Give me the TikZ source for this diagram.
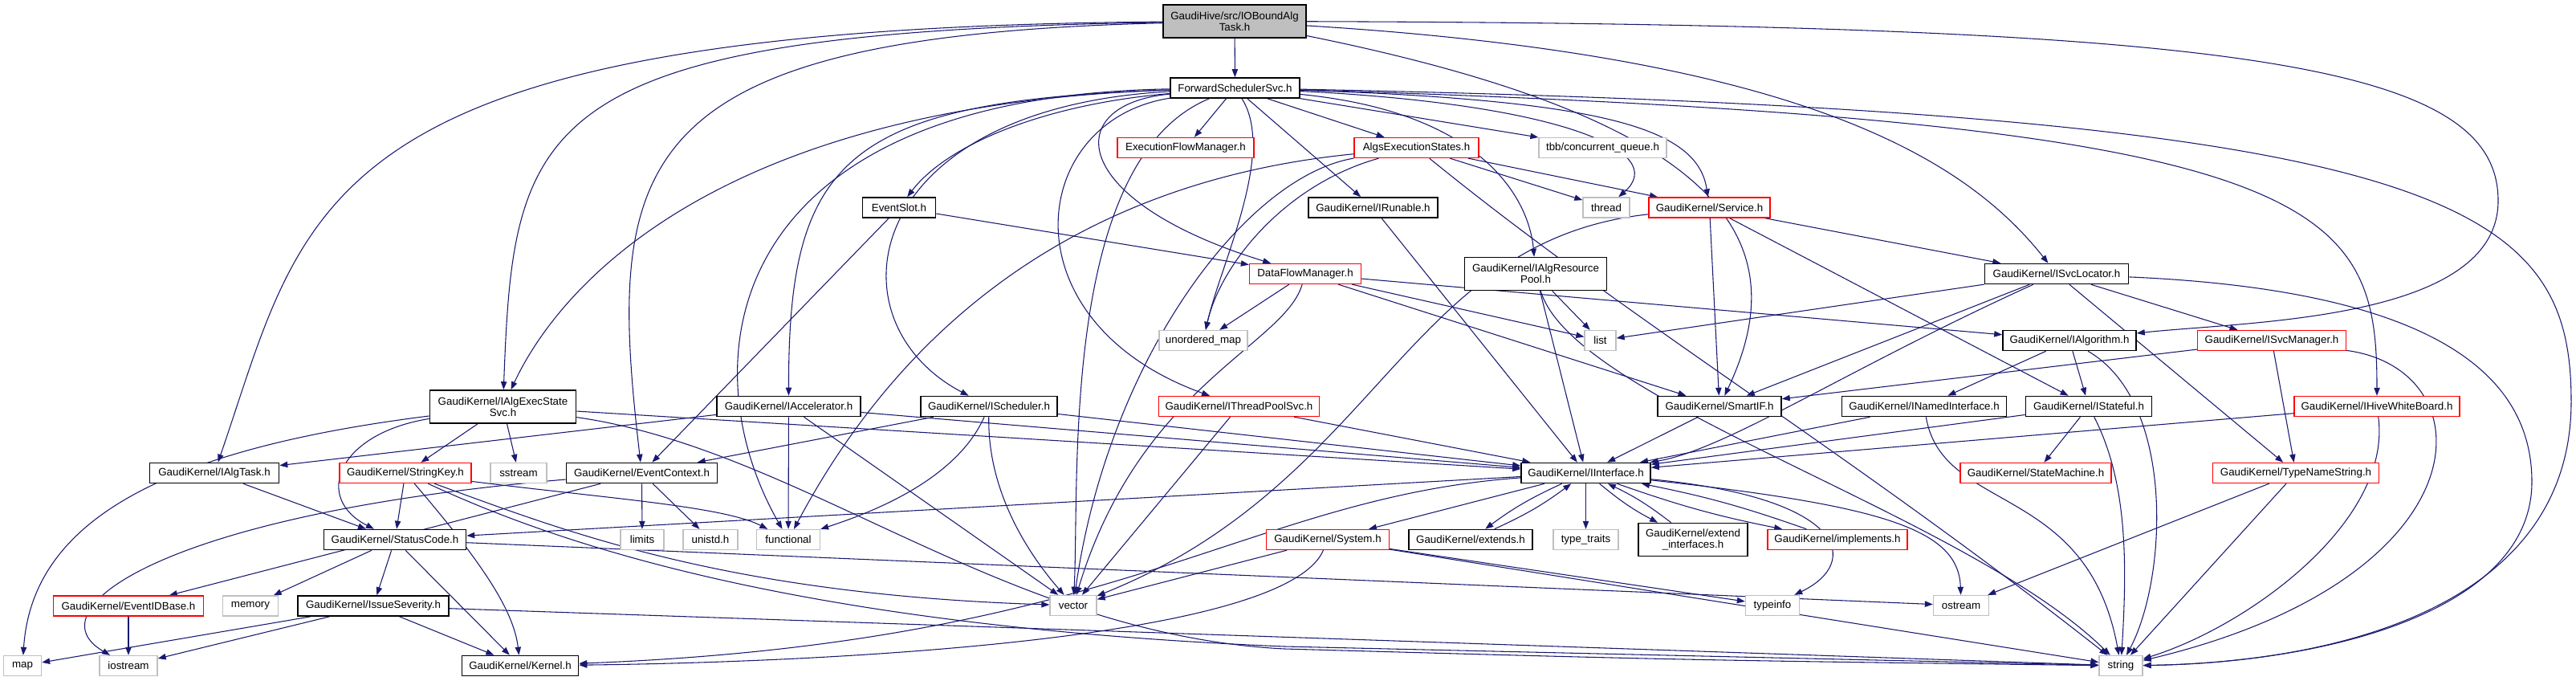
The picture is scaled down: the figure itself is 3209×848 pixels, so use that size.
\documentclass[tikz,border=0pt]{standalone}
\usepackage{fontspec}
\setmainfont{Liberation Sans}
\usetikzlibrary{arrows.meta}
\usetikzlibrary{backgrounds}
\definecolor{edgeColor}{HTML}{191970}
\definecolor{truncColor}{HTML}{FF0000}
\definecolor{sysColor}{HTML}{BFBFBF}
\colorlet{rootFill}{sysColor}
\colorlet{background}{white}
\tikzset{>={Triangle[length=7.5pt,width=5.5pt]}}
\tikzset{
	filebox/.style={draw=black, line width=1.2pt, fill=background, inner sep=0pt,
		minimum height=18.75pt, align=center, font=\fontsize{10}{10.5}\selectfont},
	truncbox/.style={filebox, draw=truncColor, line width=1pt},
	sysbox/.style={filebox, draw=sysColor, line width=1pt},
	rootbox/.style={filebox, fill=rootFill},
	tall/.style={minimum height=30.75pt},
	bw/.style={minimum width=#1*0.75pt},
	dep/.style={->, draw=edgeColor, line width=0.8pt},
}
\begin{document}
\begin{tikzpicture}[x=0.75pt,y=-0.75pt]
				\useasboundingbox (0,0) rectangle (3209,848);
				\node[rootbox, bw=178, tall] (root) at (1538,26.5) {GaudiHive/src/IOBoundAlg\\Task.h};
				\node[filebox, bw=161] (fss) at (1538.5,109.5) {ForwardSchedulerSvc.h};
				\node[truncbox, bw=170] (efm) at (1477,184) {ExecutionFlowManager.h};
				\node[truncbox, bw=155] (aes) at (1764.5,184) {AlgsExecutionStates.h};
				\node[sysbox, bw=159] (tbb) at (1996.5,184) {tbb/concurrent\_queue.h};
				\node[filebox, bw=91] (eslot) at (1120,258.5) {EventSlot.h};
				\node[filebox, bw=161] (irun) at (1710.5,258.5) {GaudiKernel/IRunable.h};
				\node[sysbox, bw=58] (thread) at (2001,258.5) {thread};
				\node[truncbox, bw=151] (svc) at (2129.5,258.5) {GaudiKernel/Service.h};
				\node[truncbox, bw=139] (dfm) at (1626,341) {DataFlowManager.h};
				\node[filebox, bw=177, tall] (iarp) at (1913,341) {GaudiKernel/IAlgResource\\Pool.h};
				\node[filebox, bw=179] (isl) at (2562,341) {GaudiKernel/ISvcLocator.h};
				\node[sysbox, bw=110] (umap) at (1499,424) {unordered\_map};
				\node[sysbox, bw=39] (list) at (1993.5,424) {list};
				\node[filebox, bw=166] (ialg) at (2578,424) {GaudiKernel/IAlgorithm.h};
				\node[truncbox, bw=185] (isvcm) at (2830,424) {GaudiKernel/ISvcManager.h};
				\node[filebox, bw=182, tall] (iaes) at (626.5,506.5) {GaudiKernel/IAlgExecState\\Svc.h};
				\node[filebox, bw=179] (iacc) at (982.5,506) {GaudiKernel/IAccelerator.h};
				\node[filebox, bw=170] (isched) at (1232,506) {GaudiKernel/IScheduler.h};
				\node[truncbox, bw=200] (itps) at (1543.5,506) {GaudiKernel/IThreadPoolSvc.h};
				\node[filebox, bw=154] (smartif) at (2142,506) {GaudiKernel/SmartIF.h};
				\node[filebox, bw=205] (inamed) at (2397,506) {GaudiKernel/INamedInterface.h};
				\node[filebox, bw=157] (istate) at (2602,506) {GaudiKernel/IStateful.h};
				\node[truncbox, bw=206] (ihwb) at (2961,506) {GaudiKernel/IHiveWhiteBoard.h};
				\node[filebox, bw=161] (ialgtask) at (267,589) {GaudiKernel/IAlgTask.h};
				\node[truncbox, bw=164] (skey) at (505,589) {GaudiKernel/StringKey.h};
				\node[sysbox, bw=70] (sstream) at (646,589) {sstream};
				\node[filebox, bw=188] (evctx) at (799.5,589) {GaudiKernel/EventContext.h};
				\node[filebox, bw=161] (iif) at (1975.5,589) {GaudiKernel/IInterface.h};
				\node[truncbox, bw=188] (smach) at (2536,589) {GaudiKernel/StateMachine.h};
				\node[truncbox, bw=207] (tns) at (2860,589) {GaudiKernel/TypeNameString.h};
				\node[filebox, bw=177] (stcode) at (492,672) {GaudiKernel/StatusCode.h};
				\node[sysbox, bw=54] (limits) at (800,672) {limits};
				\node[sysbox, bw=68] (unistd) at (885,672) {unistd.h};
				\node[sysbox, bw=79] (functional) at (982,672) {functional};
				\node[truncbox, bw=153] (system) at (1654,672) {GaudiKernel/System.h};
				\node[filebox, bw=154] (extends) at (1832,672) {GaudiKernel/extends.h};
				\node[sysbox, bw=81] (ttraits) at (1975.5,672) {type\_traits};
				\node[filebox, bw=136, tall] (extif) at (2109,672) {GaudiKernel/extend\\\_interfaces.h};
				\node[truncbox, bw=174] (impl) at (2289,672) {GaudiKernel/implements.h};
				\node[truncbox, bw=187] (evid) at (160,754.5) {GaudiKernel/EventIDBase.h};
				\node[sysbox, bw=69] (memory) at (312,754.5) {memory};
				\node[filebox, bw=188] (isev) at (465,754.5) {GaudiKernel/IssueSeverity.h};
				\node[sysbox, bw=58] (vector) at (1337,754) {vector};
				\node[sysbox, bw=67] (typeinfo) at (2208,754) {typeinfo};
				\node[sysbox, bw=69] (ostream) at (2443,754) {ostream};
				\node[sysbox, bw=47] (map) at (28,829) {map};
				\node[sysbox, bw=72] (iostream) at (160,829) {iostream};
				\node[filebox, bw=145] (kernel) at (648,829) {GaudiKernel/Kernel.h};
				\node[sysbox, bw=54] (string) at (2642,829) {string};
				\begin{scope}[on background layer]
				% includes of the root file
				\draw[dep] (root) -- (fss);
				\draw[dep] (root) .. controls (384,35) and (384,250) .. (ialgtask);
				\draw[dep] (root) .. controls (660,40) and (640,150) .. (iaes);
				\draw[dep] (root) .. controls (780,45) and (754,200) .. (evctx);
				\draw[dep] (root) .. controls (2150,150) and (2240,300) .. (smartif);
				\draw[dep] (root) .. controls (2250,70) and (2450,200) .. (isl);
				\draw[dep] (root) .. controls (2800,30) and (3112,80) .. (3112,250) .. controls (3112,400) and (2800,400) .. (ialg);
				% ForwardSchedulerSvc.h
				\draw[dep] (fss) -- (efm);
				\draw[dep] (fss) -- (aes);
				\draw[dep] (fss) -- (tbb);
				\draw[dep] (fss) -- (irun);
				\draw[dep] (fss) .. controls (1950,130) and (2080,190) .. (thread);
				\draw[dep] (fss) .. controls (2000,125) and (2115,160) .. (svc);
				\draw[dep] (fss) .. controls (1300,130) and (1180,180) .. (eslot);
				\draw[dep] (fss) .. controls (1320,130) and (1330,250) .. (dfm);
				\draw[dep] (fss) .. controls (1590,190) and (1520,330) .. (umap);
				\draw[dep] (fss) .. controls (1850,140) and (1905,250) .. (iarp);
				\draw[dep] (fss) .. controls (1050,125) and (982,200) .. (iacc);
				\draw[dep] (fss) .. controls (1070,135) and (1030,400) .. (isched);
				\draw[dep] (fss) .. controls (1280,150) and (1250,400) .. (itps);
				\draw[dep] (fss) .. controls (900,130) and (700,350) .. (iaes);
				\draw[dep] (fss) .. controls (900,120) and (855,450) .. (functional);
				\draw[dep] (fss) .. controls (1320,200) and (1345,600) .. (vector);
				\draw[dep] (fss) .. controls (2900,150) and (2961,250) .. (ihwb);
				\draw[dep] (fss) .. controls (3050,140) and (3203,250) .. (3203,500) .. controls (3203,760) and (2900,825) .. (string);
				% AlgsExecutionStates.h
				\draw[dep] (aes) -- (thread);
				\draw[dep] (aes) -- (svc);
				\draw[dep] (aes) .. controls (1600,230) and (1520,330) .. (umap);
				\draw[dep] (aes) .. controls (1550,220) and (1380,450) .. (vector);
				\draw[dep] (aes) .. controls (1300,230) and (1100,450) .. (functional);
				\draw[dep] (aes) .. controls (2030,400) and (2300,560) .. (string);
				\draw[dep] (eslot) -- (dfm);
				\draw[dep] (eslot) -- (evctx);
				\draw[dep] (irun) -- (iif);
				% Service.h
				\draw[dep] (svc) -- (isl);
				\draw[dep] (svc) -- (smartif);
				\draw[dep] (svc) -- (istate);
				\draw[dep] (svc) .. controls (1750,300) and (1720,600) .. (vector);
				% DataFlowManager.h
				\draw[dep] (dfm) -- (umap);
				\draw[dep] (dfm) .. controls (1600,430) and (1420,480) .. (vector);
				\draw[dep] (dfm) -- (list);
				\draw[dep] (dfm) -- (ialg);
				\draw[dep] (dfm) -- (smartif);
				\draw[dep] (iarp) -- (list);
				\draw[dep] (iarp) -- (iif);
				\draw[dep] (iarp) .. controls (1960,500) and (2450,640) .. (string);
				% ISvcLocator.h
				\draw[dep] (isl) -- (list);
				\draw[dep] (isl) -- (smartif);
				\draw[dep] (isl) .. controls (2300,460) and (2150,560) .. (iif);
				\draw[dep] (isl) -- (tns);
				\draw[dep] (isl) -- (isvcm);
				\draw[dep] (isl) .. controls (3000,360) and (3154,450) .. (3154,600) .. controls (3154,760) and (2900,825) .. (string);
				\draw[dep] (ialg) -- (inamed);
				\draw[dep] (ialg) -- (istate);
				\draw[dep] (ialg) .. controls (2710,500) and (2700,720) .. (string);
				\draw[dep] (isvcm) -- (smartif);
				\draw[dep] (isvcm) -- (tns);
				\draw[dep] (isvcm) .. controls (3100,460) and (3100,720) .. (string);
				% IAlgExecStateSvc.h
				\draw[dep] (iaes) .. controls (200,560) and (40,650) .. (map);
				\draw[dep] (iaes) .. controls (420,540) and (390,620) .. (stcode);
				\draw[dep] (iaes) -- (skey);
				\draw[dep] (iaes) -- (sstream);
				\draw[dep] (iaes) -- (iif);
				\draw[dep] (iaes) .. controls (1000,560) and (1250,790) .. (1600,808) .. controls (2100,822) .. (string);
				% the other interfaces of the middle row
				\draw[dep] (iacc) -- (ialgtask);
				\draw[dep] (iacc) -- (functional);
				\draw[dep] (iacc) -- (vector);
				\draw[dep] (iacc) -- (iif);
				\draw[dep] (isched) -- (evctx);
				\draw[dep] (isched) .. controls (1190,600) and (1080,640) .. (functional);
				\draw[dep] (isched) .. controls (1230,620) and (1290,700) .. (vector);
				\draw[dep] (isched) -- (iif);
				\draw[dep] (itps) -- (vector);
				\draw[dep] (itps) -- (iif);
				\draw[dep] (smartif) -- (iif);
				\draw[dep] (inamed) -- (iif);
				\draw[dep] (inamed) .. controls (2420,640) and (2600,600) .. (string);
				\draw[dep] (istate) -- (iif);
				\draw[dep] (istate) -- (smach);
				\draw[dep] (istate) .. controls (2650,600) and (2650,700) .. (string);
				\draw[dep] (ihwb) -- (iif);
				\draw[dep] (ihwb) .. controls (2980,650) and (2800,780) .. (string);
				\draw[dep] (ialgtask) -- (stcode);
				% StringKey.h and EventContext.h
				\draw[dep] (skey) -- (stcode);
				\draw[dep] (skey) .. controls (600,700) and (640,760) .. (kernel);
				\draw[dep] (skey) .. controls (750,620) and (900,630) .. (functional);
				\draw[dep] (skey) .. controls (700,660) and (900,740) .. (vector);
				\draw[dep] (skey) .. controls (700,680) and (1000,780) .. (1600,805) -- (string);
				\draw[dep] (evctx) -- (evid);
				\draw[dep] (evctx) .. controls (200,640) and (40,760) .. (iostream);
				\draw[dep] (evctx) -- (limits);
				\draw[dep] (evctx) -- (unistd);
				% IInterface.h
				\draw[dep] (iif) -- (stcode);
				\draw[dep] (iif) .. controls (1550,620) and (1400,800) .. (kernel);
				\draw[dep] (iif) -- (system);
				\draw[dep] (iif) to[bend right=6] (extends);
				\draw[dep] (extends) to[bend right=6] (iif);
				\draw[dep] (iif) -- (ttraits);
				\draw[dep] (iif) to[bend right=6] (extif);
				\draw[dep] (extif) to[bend right=6] (iif);
				\draw[dep] (iif) to[bend right=4] (impl);
				\draw[dep] (impl) to[bend right=4] (iif);
				\draw[dep] (iif) .. controls (2300,620) and (2320,700) .. (typeinfo);
				\draw[dep] (iif) .. controls (2350,630) and (2440,660) .. (ostream);
				\draw[dep] (tns) -- (ostream);
				\draw[dep] (tns) -- (string);
				% StatusCode.h and below
				\draw[dep] (stcode) -- (memory);
				\draw[dep] (stcode) -- (isev);
				\draw[dep] (stcode) -- (kernel);
				\draw[dep] (stcode) -- (ostream);
				\draw[dep] (system) -- (vector);
				\draw[dep] (system) .. controls (1600,800) and (1000,825) .. (kernel);
				\draw[dep] (system) -- (typeinfo);
				\draw[dep] (system) -- (string);
				\draw[dep] (evid) -- (iostream);
				\draw[dep] (isev) -- (map);
				\draw[dep] (isev) -- (iostream);
				\draw[dep] (isev) -- (kernel);
				\draw[dep] (isev) -- (string);
				\end{scope}
\end{tikzpicture}
\end{document}
